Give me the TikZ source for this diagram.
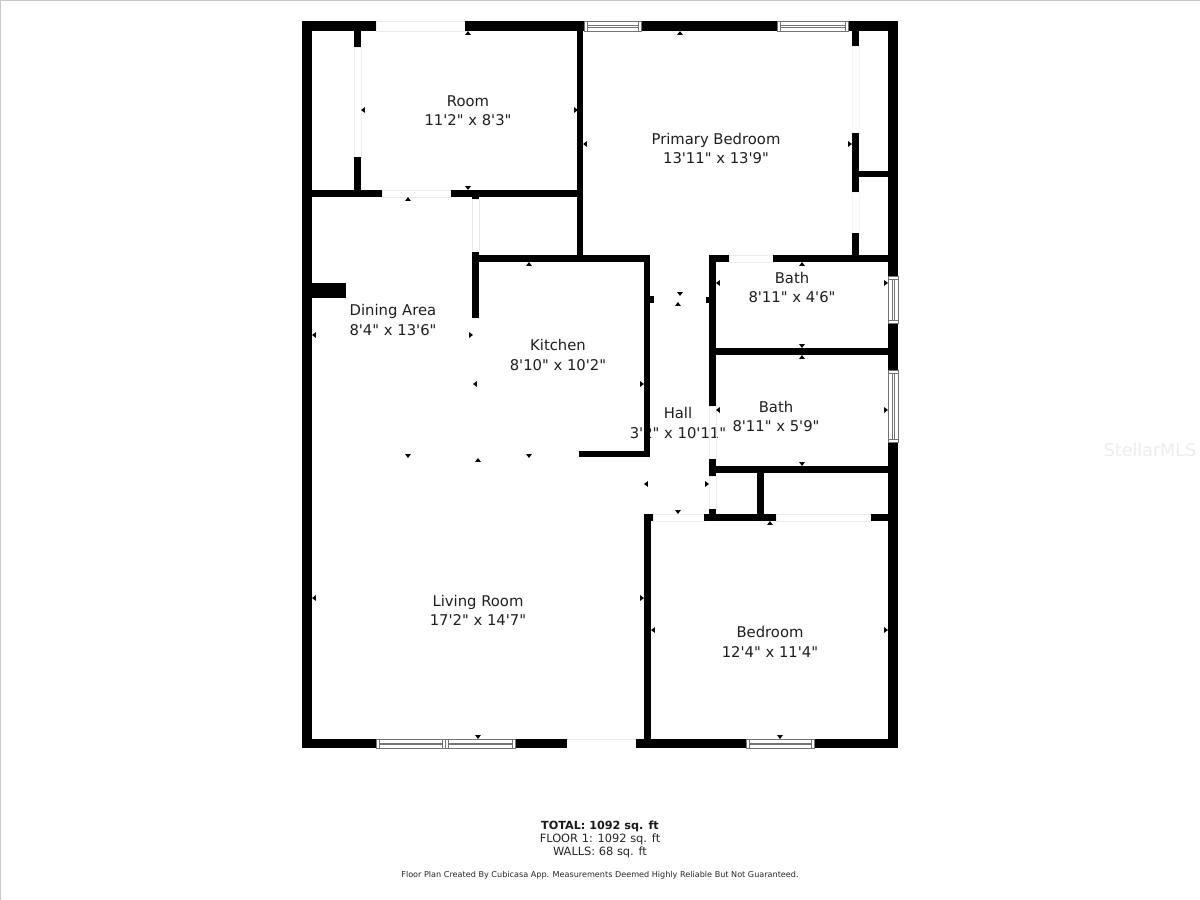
\documentclass[tikz,border=0pt]{standalone}
\usepackage{fontspec}
\newfontfamily\planfont{DejaVu Sans}
\newcommand\wal[4]{\fill[black] (#1,#2) rectangle (#3,#4);}
\newcommand\gapbox[4]{\draw[gapline] (#1,#2) rectangle (#3,#4);}
\newcommand\hwin[4]{\fill[white] (#1,#2) rectangle (#3,#4);
  \draw[winline] (#1,#2) rectangle (#3,#4);
  \draw[winline] (#1+3,#2) -- (#1+3,#4) (#3-3,#2) -- (#3-3,#4);
  \draw[winline] (#1+3,#2+4) -- (#3-3,#2+4) (#1+3,#4-4) -- (#3-3,#4-4);}
\newcommand\vwin[4]{\fill[white] (#1,#2) rectangle (#3,#4);
  \draw[winline] (#1,#2) rectangle (#3,#4);
  \draw[winline] (#1,#2+3) -- (#3,#2+3) (#1,#4-3) -- (#3,#4-3);
  \draw[winline] (#1+4,#2+3) -- (#1+4,#4-3) (#3-4,#2+3) -- (#3-4,#4-3);}
\newcommand\tup[2]{\fill[black] (#1,#2) -- ++(-2.8,3.8) -- ++(5.6,0) -- cycle;}
\newcommand\tdn[2]{\fill[black] (#1,#2) -- ++(-2.8,-3.8) -- ++(5.6,0) -- cycle;}
\newcommand\tlf[2]{\fill[black] (#1,#2) -- ++(3.8,-2.8) -- ++(0,5.6) -- cycle;}
\newcommand\trt[2]{\fill[black] (#1,#2) -- ++(-3.8,-2.8) -- ++(0,5.6) -- cycle;}
\tikzset{
  gapline/.style={draw=black!8,line width=0.7pt},
  fainter/.style={draw=black!4,line width=0.7pt},
  winline/.style={draw=black!55,line width=0.7pt},
  edgeline/.style={draw=black!22,line width=1.4pt},
  roomlabel/.style={font=\planfont\fontsize{14.8}{16}\selectfont,text=black!88,inner sep=0pt,anchor=base},
  sumlabel/.style={font=\planfont\fontsize{11.4}{13}\selectfont,text=black!85,inner sep=0pt,anchor=base},
  totlabel/.style={font=\planfont\bfseries\fontsize{11.2}{13}\selectfont,text=black!90,inner sep=0pt,anchor=base},
  notelabel/.style={font=\planfont\fontsize{8.1}{9}\selectfont,text=black!85,inner sep=0pt,anchor=base},
  marklabel/.style={font=\planfont\fontsize{17.5}{20}\selectfont,text=black!7,inner sep=0pt,anchor=center},
}
\begin{document}
\begin{tikzpicture}[x=1pt,y=-1pt]
\useasboundingbox (0,0) rectangle (1200,900);
\fill[white] (0,0) rectangle (1200,900);
\coordinate (tl) at (0.7,0.7);
\coordinate (tr) at (1200,0.7);
\coordinate (bl) at (0.7,900);
\draw[edgeline] (bl) -- (tl) -- (tr);
% labels (drawn below the walls, as the hall label runs under the kitchen wall)
\node[roomlabel] (room1) at (468,106) {Room};
\node[roomlabel] (room2) at (468,125) {11'2" x 8'3"};
\node[roomlabel] (prim1) at (716,144) {Primary Bedroom};
\node[roomlabel] (prim2) at (716,163) {13'11" x 13'9"};
\node[roomlabel] (bath1) at (792,283) {Bath};
\node[roomlabel] (bath2) at (792,302) {8'11" x 4'6"};
\node[roomlabel] (kit1) at (558,350) {Kitchen};
\node[roomlabel] (kit2) at (558,370) {8'10" x 10'2"};
\node[roomlabel] (din1) at (393,315) {Dining Area};
\node[roomlabel] (din2) at (393,335) {8'4" x 13'6"};
\node[roomlabel] (hall1) at (678,418) {Hall};
\node[roomlabel] (hall2) at (678,438) {3'2" x 10'11"};
\node[roomlabel] (bathb1) at (776,412) {Bath};
\node[roomlabel] (bathb2) at (776,431) {8'11" x 5'9"};
\node[roomlabel] (liv1) at (478,606) {Living Room};
\node[roomlabel] (liv2) at (478,625) {17'2" x 14'7"};
\node[roomlabel] (bed1) at (770,637) {Bedroom};
\node[roomlabel] (bed2) at (770,657) {12'4" x 11'4"};
\node[totlabel] (tot) at (600,829) {TOTAL: 1092 sq. ft};
\node[sumlabel] (flo) at (600,842) {FLOOR 1: 1092 sq. ft};
\node[sumlabel] (wls) at (600,855) {WALLS: 68 sq. ft};
\node[notelabel] (note) at (600,877) {Floor Plan Created By Cubicasa App. Measurements Deemed Highly Reliable But Not Guaranteed.};
\node[marklabel] (mark) at (1150,450) {StellarMLS};
% door and opening outlines
\gapbox{376}{21}{465}{31}
\gapbox{354}{47}{361}{157}
\gapbox{382}{190}{451}{197}
\gapbox{472}{199}{479}{252}
\draw[fainter] (852,46) rectangle (859,133);
\draw[fainter] (852,192) rectangle (859,233);
\gapbox{729}{255}{773}{262}
\gapbox{709}{406}{716}{459}
\gapbox{709}{476}{716}{509}
\gapbox{653}{514}{704}{521}
\gapbox{776}{514}{871}{521}
\coordinate (dl) at (567,739);
\coordinate (dr) at (636,739);
\draw[gapline] (dl) -- (dr);
% outer walls
\wal{302}{21}{376}{31}
\wal{465}{21}{584}{31}
\wal{641}{21}{777}{31}
\wal{848}{21}{898}{31}
\wal{302}{21}{312}{748}
\wal{888}{21}{898}{748}
\wal{302}{739}{376}{748}
\wal{515}{739}{567}{748}
\wal{636}{739}{746}{748}
\wal{814}{739}{898}{748}
% inner walls
\wal{354}{31}{361}{47}
\wal{354}{157}{361}{190}
\wal{312}{190}{382}{197}
\wal{451}{190}{583}{197}
\wal{472}{197}{479}{199}
\wal{576.5}{31}{583}{262}
\wal{472}{252}{479}{318}
\wal{472}{255}{650}{262}
\wal{644}{255}{650}{457}
\wal{579}{451}{650}{457}
\wal{650}{296}{654}{303}
\wal{312}{283}{346}{298}
\wal{852}{31}{859}{46}
\wal{852}{133}{859}{192}
\wal{859}{171}{888}{177}
\wal{852}{233}{859}{255}
\wal{709}{255}{729}{262}
\wal{773}{255}{888}{262}
\wal{709}{255}{716}{406}
\wal{706}{297}{709}{303}
\wal{716}{348}{888}{355}
\wal{709}{459}{716}{476}
\wal{716}{466}{888}{473}
\wal{757}{473}{764}{514}
\wal{709}{509}{716}{514}
\wal{704}{514}{776}{521}
\wal{871}{514}{888}{521}
\wal{644}{514}{653}{521}
\wal{644}{514}{651}{740}
% windows
\hwin{584}{21}{641}{31}
\hwin{777}{21}{848}{31}
\hwin{376}{739}{445}{748}
\hwin{445}{739}{515}{748}
\hwin{746}{739}{814}{748}
\vwin{888}{276}{898}{323}
\vwin{888}{370}{898}{442}
% measurement ticks
\tup{468}{31}\tlf{361}{110}\trt{578}{110}\tdn{468}{190}
\tup{680}{31}\tlf{583}{144}\trt{852}{144}\tdn{680}{296}
\tup{802}{262}\tlf{716}{283}\trt{888}{283}\tdn{802}{348}
\tup{802}{355}\tlf{716}{410}\trt{888}{410}\tdn{802}{466}
\tup{678}{302}\tlf{644}{484}\trt{709}{484}\tdn{678}{514}
\tup{770}{521}\tlf{651}{630}\trt{888}{630}\tdn{780}{739}
\tup{478}{458}\tlf{312}{598}\trt{644}{598}\tdn{478}{739}
\tup{408}{197}\tlf{312}{335}\trt{473}{335}\tdn{408}{458}
\tup{529}{262}\tlf{473}{384}\trt{644}{384}\tdn{529}{458}
\end{tikzpicture}
\end{document}
